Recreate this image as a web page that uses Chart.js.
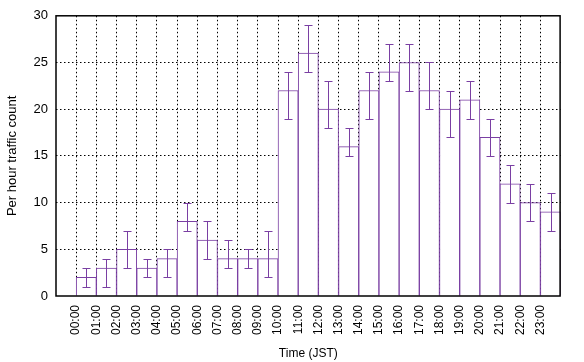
<!DOCTYPE html>
<html>
<head>
<meta charset="utf-8">
<script src="https://cdn.jsdelivr.net/npm/chart.js@4"></script>
<style>
  html, body { margin: 0; padding: 0; background: #fff; }
  #wrap { width: 584px; height: 362px; }
</style>
</head>
<body>
<div id="wrap"><canvas id="trafficChart" width="584" height="362"></canvas></div>
<script>
// hourly traffic counts, with error range (low / high)
const hours = ["00:00","01:00","02:00","03:00","04:00","05:00","06:00","07:00","08:00","09:00","10:00","11:00",
               "12:00","13:00","14:00","15:00","16:00","17:00","18:00","19:00","20:00","21:00","22:00","23:00"];
const counts = [2, 3, 5, 3, 4, 8, 6, 4, 4, 4, 22, 26, 20, 16, 22, 24, 25, 22, 20, 21, 17, 12, 10, 9];
const errLow = [1, 1, 3, 2, 2, 7, 4, 3, 3, 2, 19, 24, 18, 15, 19, 23, 22, 20, 17, 19, 15, 10, 8, 7];
const errHigh = [3, 4, 7, 4, 5, 10, 8, 6, 5, 7, 24, 29, 23, 18, 24, 27, 27, 25, 22, 23, 19, 14, 12, 11];
const yTicks = [0, 5, 10, 15, 20, 25, 30];

const purple = "#7a3fa3";
const font = { family: "'Liberation Sans', Arial, sans-serif", size: 12 };

// bars sit between tick h and h+1
const barData = counts.map((v, i) => ({ x: i + 0.5, y: v }));

// draws the error bars + the frame around the plot
const extras = {
  id: "extras",
  afterDatasetsDraw(chart) {
    const { ctx, chartArea, scales } = chart;
    const xs = scales.x, ys = scales.y;
    ctx.save();
    ctx.strokeStyle = purple;
    ctx.lineWidth = 1;
    errLow.forEach((lo, i) => {
      const x = Math.round(xs.getPixelForValue(i + 0.5)) + 0.5;
      const y1 = Math.round(ys.getPixelForValue(lo)) + 0.5;
      const y2 = Math.round(ys.getPixelForValue(errHigh[i])) + 0.5;
      ctx.beginPath();
      ctx.moveTo(x, y1); ctx.lineTo(x, y2);
      ctx.moveTo(x - 4, y1); ctx.lineTo(x + 4, y1);
      ctx.moveTo(x - 4, y2); ctx.lineTo(x + 4, y2);
      ctx.stroke();
    });
    // frame
    ctx.strokeStyle = "#000";
    ctx.lineWidth = 1.5;
    ctx.strokeRect(chartArea.left, chartArea.top, chartArea.right - chartArea.left - 0.5, chartArea.bottom - chartArea.top);
    ctx.restore();
  }
};

new Chart(document.getElementById("trafficChart"), {
  type: "bar",
  data: {
    datasets: [{
      data: barData,
      backgroundColor: "#ffffff",
      borderColor: purple,
      borderWidth: 1,
      barPercentage: 1,
      categoryPercentage: 1,
    }],
  },
  options: {
    responsive: false,
    animation: false,
    layout: { padding: { top: 14, right: 0, left: 0, bottom: 0 } },
    plugins: { legend: { display: false }, tooltip: { enabled: false } },
    scales: {
      x: {
        type: "linear",
        min: -1,
        max: 24,
        offset: false,
        afterBuildTicks: (s) => { s.ticks = []; for (let v = -1; v <= 24; v++) s.ticks.push({ value: v }); },
        afterFit: (s) => { s.height = 66; },
        ticks: {
          autoSkip: false,
          minRotation: 90,
          maxRotation: 90,
          padding: 9,
          color: "#000",
          font,
          callback: (v) => (v >= 0 && v < hours.length ? hours[v] : ""),
        },
        grid: {
          offset: false,
          drawTicks: false,
          color: (c) => (c.tick && c.tick.value >= 0 && c.tick.value <= 23 ? "#000" : "rgba(0,0,0,0)"),
        },
        border: { display: false, dash: [1.5, 2.5] },
        title: { display: true, text: "Time (JST)", color: "#000", font, padding: { top: 0, bottom: 1 } },
      },
      y: {
        min: 0,
        max: 30,
        afterBuildTicks: (s) => { s.ticks = yTicks.map((v) => ({ value: v })); },
        afterFit: (s) => { s.width = 56; },
        ticks: { color: "#000", font: { family: font.family, size: 13 }, padding: 8 },
        grid: {
          drawTicks: false,
          color: (c) => (c.tick && c.tick.value > 0 && c.tick.value < 30 ? "#000" : "rgba(0,0,0,0)"),
        },
        border: { display: false, dash: [1.5, 2.5] },
        title: { display: true, text: "Per hour traffic count", color: "#000", font: { family: font.family, size: 13 }, padding: { top: 5, bottom: 6 } },
      },
    },
  },
  plugins: [extras],
});
</script>
</body>
</html>
